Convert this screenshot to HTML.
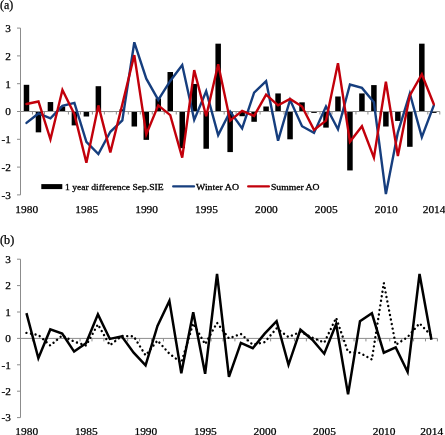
<!DOCTYPE html>
<html><head><meta charset="utf-8"><title>chart</title>
<style>html,body{margin:0;padding:0;background:#fff}body{width:445px;height:435px;overflow:hidden;font-family:"Liberation Serif",serif}</style></head>
<body>
<svg width="445" height="435" viewBox="0 0 445 435" style="will-change:transform;display:block;font-family:'Liberation Serif',serif">
<rect width="445" height="435" fill="#fff"/>
<g>
<text x="0" y="8.8" font-size="11.8" fill="#000" stroke="#000" stroke-width="0.25" textLength="13.2" lengthAdjust="spacingAndGlyphs">(a)</text>
<text x="0" y="243.8" font-size="11.8" fill="#000" stroke="#000" stroke-width="0.25" textLength="14.2" lengthAdjust="spacingAndGlyphs">(b)</text>
<rect x="23.74" y="84.81" width="5.5" height="26.69" fill="#000"/>
<rect x="35.72" y="111.50" width="5.5" height="20.85" fill="#000"/>
<rect x="47.70" y="102.05" width="5.5" height="9.45" fill="#000"/>
<rect x="59.68" y="106.50" width="5.5" height="5.00" fill="#000"/>
<rect x="71.66" y="111.50" width="5.5" height="13.90" fill="#000"/>
<rect x="83.64" y="111.50" width="5.5" height="5.00" fill="#000"/>
<rect x="95.62" y="86.20" width="5.5" height="25.30" fill="#000"/>
<rect x="107.60" y="111.50" width="5.5" height="0.56" fill="#000"/>
<rect x="119.58" y="109.28" width="5.5" height="2.22" fill="#000"/>
<rect x="131.56" y="111.50" width="5.5" height="15.01" fill="#000"/>
<rect x="143.54" y="111.50" width="5.5" height="28.36" fill="#000"/>
<rect x="155.52" y="98.43" width="5.5" height="13.07" fill="#000"/>
<rect x="167.50" y="72.02" width="5.5" height="39.48" fill="#000"/>
<rect x="179.48" y="111.50" width="5.5" height="36.70" fill="#000"/>
<rect x="191.46" y="83.98" width="5.5" height="27.52" fill="#000"/>
<rect x="203.44" y="111.50" width="5.5" height="37.25" fill="#000"/>
<rect x="215.42" y="43.67" width="5.5" height="67.83" fill="#000"/>
<rect x="227.40" y="111.50" width="5.5" height="40.59" fill="#000"/>
<rect x="239.38" y="111.50" width="5.5" height="4.73" fill="#000"/>
<rect x="251.36" y="111.50" width="5.5" height="10.29" fill="#000"/>
<rect x="263.34" y="106.50" width="5.5" height="5.00" fill="#000"/>
<rect x="275.32" y="93.43" width="5.5" height="18.07" fill="#000"/>
<rect x="287.30" y="111.50" width="5.5" height="27.80" fill="#000"/>
<rect x="299.28" y="102.33" width="5.5" height="9.17" fill="#000"/>
<rect x="311.26" y="111.50" width="5.5" height="1.39" fill="#000"/>
<rect x="323.24" y="111.50" width="5.5" height="16.12" fill="#000"/>
<rect x="335.22" y="96.49" width="5.5" height="15.01" fill="#000"/>
<rect x="347.20" y="111.50" width="5.5" height="58.94" fill="#000"/>
<rect x="359.18" y="93.43" width="5.5" height="18.07" fill="#000"/>
<rect x="371.16" y="85.09" width="5.5" height="26.41" fill="#000"/>
<rect x="383.14" y="111.50" width="5.5" height="15.01" fill="#000"/>
<rect x="395.12" y="111.50" width="5.5" height="9.45" fill="#000"/>
<rect x="407.10" y="111.50" width="5.5" height="35.31" fill="#000"/>
<rect x="419.08" y="43.67" width="5.5" height="67.83" fill="#000"/>
<rect x="431.06" y="111.50" width="5.5" height="1.39" fill="#000"/>
<path d="M20.5 28.10V194.90M17.0 194.90H20.5M17.0 167.10H20.5M17.0 139.30H20.5M17.0 111.50H20.5M17.0 83.70H20.5M17.0 55.90H20.5M17.0 28.10H20.5M20.5 111.5H439.8M20.50 111.5v3M32.48 111.5v3M44.46 111.5v3M56.44 111.5v3M68.42 111.5v3M80.40 111.5v3M92.38 111.5v3M104.36 111.5v3M116.34 111.5v3M128.32 111.5v3M140.30 111.5v3M152.28 111.5v3M164.26 111.5v3M176.24 111.5v3M188.22 111.5v3M200.20 111.5v3M212.18 111.5v3M224.16 111.5v3M236.14 111.5v3M248.12 111.5v3M260.10 111.5v3M272.08 111.5v3M284.06 111.5v3M296.04 111.5v3M308.02 111.5v3M320.00 111.5v3M331.98 111.5v3M343.96 111.5v3M355.94 111.5v3M367.92 111.5v3M379.90 111.5v3M391.88 111.5v3M403.86 111.5v3M415.84 111.5v3M427.82 111.5v3M439.80 111.5v3" stroke="#8c8c8c" stroke-width="1" fill="none"/>
<path d="M26.49 122.90L38.47 113.45L50.45 118.45L62.43 105.94L74.41 102.88L86.39 141.80L98.37 154.03L110.35 131.79L122.33 120.40L134.31 42.28L146.29 78.70L158.27 99.82L170.25 80.92L182.23 65.07L194.21 119.84L206.19 91.21L218.17 135.13L230.15 111.50L242.13 128.46L254.11 92.60L266.09 81.20L278.07 140.69L290.05 99.82L302.03 126.23L314.01 132.91L325.99 106.50L337.97 129.29L349.95 84.53L361.93 87.87L373.91 102.33L385.89 194.07L397.87 132.35L409.85 93.43L421.83 137.08L433.81 105.38" stroke="#163E7E" stroke-width="2.4" fill="none" stroke-linejoin="miter" stroke-linecap="round"/>
<path d="M26.49 103.99L38.47 101.49L50.45 139.30L62.43 90.09L74.41 114.28L86.39 162.65L98.37 105.38L110.35 152.37L122.33 104.27L134.31 55.07L146.29 134.30L158.27 105.38L170.25 115.11L182.23 157.65L194.21 70.08L206.19 116.23L218.17 64.24L230.15 120.67L242.13 110.94L254.11 115.95L266.09 94.54L278.07 105.38L290.05 98.99L302.03 106.50L314.01 129.85L325.99 120.67L337.97 63.13L349.95 141.80L361.93 126.23L373.91 157.65L385.89 81.75L397.87 155.98L409.85 95.38L421.83 74.25L433.81 104.27" stroke="#C2000B" stroke-width="2.4" fill="none" stroke-linejoin="miter" stroke-linecap="round"/>
<text x="10.8" y="198.70" font-size="11.3" text-anchor="end" fill="#000" stroke="#000" stroke-width="0.25">-3</text>
<text x="10.8" y="170.90" font-size="11.3" text-anchor="end" fill="#000" stroke="#000" stroke-width="0.25">-2</text>
<text x="10.8" y="143.10" font-size="11.3" text-anchor="end" fill="#000" stroke="#000" stroke-width="0.25">-1</text>
<text x="10.8" y="115.30" font-size="11.3" text-anchor="end" fill="#000" stroke="#000" stroke-width="0.25">0</text>
<text x="10.8" y="87.50" font-size="11.3" text-anchor="end" fill="#000" stroke="#000" stroke-width="0.25">1</text>
<text x="10.8" y="59.70" font-size="11.3" text-anchor="end" fill="#000" stroke="#000" stroke-width="0.25">2</text>
<text x="10.8" y="31.90" font-size="11.3" text-anchor="end" fill="#000" stroke="#000" stroke-width="0.25">3</text>
<text x="26.79" y="213.3" font-size="11.3" text-anchor="middle" fill="#000" stroke="#000" stroke-width="0.25" textLength="22.8" lengthAdjust="spacingAndGlyphs">1980</text>
<text x="86.69" y="213.3" font-size="11.3" text-anchor="middle" fill="#000" stroke="#000" stroke-width="0.25" textLength="22.8" lengthAdjust="spacingAndGlyphs">1985</text>
<text x="146.59" y="213.3" font-size="11.3" text-anchor="middle" fill="#000" stroke="#000" stroke-width="0.25" textLength="22.8" lengthAdjust="spacingAndGlyphs">1990</text>
<text x="206.49" y="213.3" font-size="11.3" text-anchor="middle" fill="#000" stroke="#000" stroke-width="0.25" textLength="22.8" lengthAdjust="spacingAndGlyphs">1995</text>
<text x="266.39" y="213.3" font-size="11.3" text-anchor="middle" fill="#000" stroke="#000" stroke-width="0.25" textLength="22.8" lengthAdjust="spacingAndGlyphs">2000</text>
<text x="326.29" y="213.3" font-size="11.3" text-anchor="middle" fill="#000" stroke="#000" stroke-width="0.25" textLength="22.8" lengthAdjust="spacingAndGlyphs">2005</text>
<text x="386.19" y="213.3" font-size="11.3" text-anchor="middle" fill="#000" stroke="#000" stroke-width="0.25" textLength="22.8" lengthAdjust="spacingAndGlyphs">2010</text>
<text x="434.11" y="213.3" font-size="11.3" text-anchor="middle" fill="#000" stroke="#000" stroke-width="0.25" textLength="22.8" lengthAdjust="spacingAndGlyphs">2014</text>
<rect x="41.3" y="184.1" width="21" height="5" fill="#000"/>
<text x="65" y="189.5" font-size="8.4" fill="#000" stroke="#000" stroke-width="0.28" textLength="98.7" lengthAdjust="spacingAndGlyphs">1 year difference Sep.SIE</text>
<path d="M173.2 186.4H194" stroke="#163E7E" stroke-width="2.3" stroke-linecap="round"/>
<text x="196" y="189.5" font-size="8.4" fill="#000" stroke="#000" stroke-width="0.28" textLength="43" lengthAdjust="spacingAndGlyphs">Winter AO</text>
<path d="M248.2 186.4H268.9" stroke="#C2000B" stroke-width="2.3" stroke-linecap="round"/>
<text x="271" y="189.5" font-size="8.4" fill="#000" stroke="#000" stroke-width="0.28" textLength="48.5" lengthAdjust="spacingAndGlyphs">Summer AO</text>
<path d="M20.5 259.20V417.60M17.0 417.60H20.5M17.0 391.20H20.5M17.0 364.80H20.5M17.0 338.40H20.5M17.0 312.00H20.5M17.0 285.60H20.5M17.0 259.20H20.5M20.5 338.4H437.4M20.50 338.4v3M32.41 338.4v3M44.32 338.4v3M56.23 338.4v3M68.15 338.4v3M80.06 338.4v3M91.97 338.4v3M103.88 338.4v3M115.79 338.4v3M127.70 338.4v3M139.61 338.4v3M151.53 338.4v3M163.44 338.4v3M175.35 338.4v3M187.26 338.4v3M199.17 338.4v3M211.08 338.4v3M222.99 338.4v3M234.91 338.4v3M246.82 338.4v3M258.73 338.4v3M270.64 338.4v3M282.55 338.4v3M294.46 338.4v3M306.37 338.4v3M318.29 338.4v3M330.20 338.4v3M342.11 338.4v3M354.02 338.4v3M365.93 338.4v3M377.84 338.4v3M389.75 338.4v3M401.67 338.4v3M413.58 338.4v3M425.49 338.4v3M437.40 338.4v3" stroke="#8c8c8c" stroke-width="1" fill="none"/>
<path d="M26.46 332.86L38.37 334.97L50.28 345.53L62.19 335.50L74.10 341.57L86.01 345.53L97.92 324.41L109.84 345.26L121.75 336.02L133.66 336.29L145.57 355.30L157.48 340.51L169.39 353.71L181.30 362.69L193.22 323.35L205.13 344.21L217.04 322.82L228.95 338.40L240.86 333.91L252.77 344.74L264.68 342.10L276.60 328.37L288.51 337.08L300.42 331.80L312.33 337.61L324.24 342.62L336.15 317.81L348.06 352.13L359.98 352.92L371.89 359.52L383.80 282.96L395.71 344.74L407.62 337.08L419.53 323.35L431.44 335.76" stroke="#000" stroke-width="2.4" fill="none" stroke-linejoin="round" stroke-linecap="round" stroke-dasharray="0.01 4.6"/>
<path d="M26.46 313.06L38.37 358.20L50.28 329.42L62.19 333.65L74.10 351.60L86.01 343.15L97.92 314.38L109.84 338.93L121.75 336.29L133.66 352.66L145.57 365.33L157.48 325.99L169.39 300.91L181.30 373.25L193.22 312.26L205.13 373.78L217.04 273.98L228.95 376.94L240.86 342.89L252.77 348.17L264.68 333.65L276.60 321.24L288.51 364.80L300.42 329.69L312.33 339.72L324.24 353.71L336.15 324.14L348.06 394.37L359.98 321.24L371.89 313.32L383.80 352.66L395.71 347.38L407.62 371.93L419.53 273.98L431.44 339.72" stroke="#000" stroke-width="2.5" fill="none" stroke-linejoin="miter" stroke-linecap="butt"/>
<text x="10.8" y="421.40" font-size="11.3" text-anchor="end" fill="#000" stroke="#000" stroke-width="0.25">-3</text>
<text x="10.8" y="395.00" font-size="11.3" text-anchor="end" fill="#000" stroke="#000" stroke-width="0.25">-2</text>
<text x="10.8" y="368.60" font-size="11.3" text-anchor="end" fill="#000" stroke="#000" stroke-width="0.25">-1</text>
<text x="10.8" y="342.20" font-size="11.3" text-anchor="end" fill="#000" stroke="#000" stroke-width="0.25">0</text>
<text x="10.8" y="315.80" font-size="11.3" text-anchor="end" fill="#000" stroke="#000" stroke-width="0.25">1</text>
<text x="10.8" y="289.40" font-size="11.3" text-anchor="end" fill="#000" stroke="#000" stroke-width="0.25">2</text>
<text x="10.8" y="263.00" font-size="11.3" text-anchor="end" fill="#000" stroke="#000" stroke-width="0.25">3</text>
<text x="26.76" y="435" font-size="11.3" text-anchor="middle" fill="#000" stroke="#000" stroke-width="0.25" textLength="22.8" lengthAdjust="spacingAndGlyphs">1980</text>
<text x="86.31" y="435" font-size="11.3" text-anchor="middle" fill="#000" stroke="#000" stroke-width="0.25" textLength="22.8" lengthAdjust="spacingAndGlyphs">1985</text>
<text x="145.87" y="435" font-size="11.3" text-anchor="middle" fill="#000" stroke="#000" stroke-width="0.25" textLength="22.8" lengthAdjust="spacingAndGlyphs">1990</text>
<text x="205.43" y="435" font-size="11.3" text-anchor="middle" fill="#000" stroke="#000" stroke-width="0.25" textLength="22.8" lengthAdjust="spacingAndGlyphs">1995</text>
<text x="264.98" y="435" font-size="11.3" text-anchor="middle" fill="#000" stroke="#000" stroke-width="0.25" textLength="22.8" lengthAdjust="spacingAndGlyphs">2000</text>
<text x="324.54" y="435" font-size="11.3" text-anchor="middle" fill="#000" stroke="#000" stroke-width="0.25" textLength="22.8" lengthAdjust="spacingAndGlyphs">2005</text>
<text x="384.10" y="435" font-size="11.3" text-anchor="middle" fill="#000" stroke="#000" stroke-width="0.25" textLength="22.8" lengthAdjust="spacingAndGlyphs">2010</text>
<text x="431.74" y="435" font-size="11.3" text-anchor="middle" fill="#000" stroke="#000" stroke-width="0.25" textLength="22.8" lengthAdjust="spacingAndGlyphs">2014</text>
</g></svg>
</body></html>
